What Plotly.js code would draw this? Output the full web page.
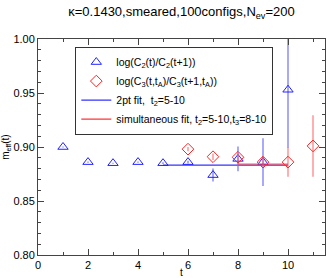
<!DOCTYPE html>
<html><head><meta charset="utf-8">
<script src="https://cdn.plot.ly/plotly-3.0.1.min.js"></script>
<style>html,body{margin:0;padding:0;background:#fff}#c{width:327px;height:278px}</style>
</head><body><div id="c"></div>
<script>
var t2 = [1, 2, 3, 4, 5, 6, 7, 8, 9, 10];
var m2 = [0.900, 0.886, 0.885, 0.886, 0.885, 0.886, 0.874, 0.889, 0.886, 0.953];
var e2 = [0.0005, 0.0005, 0.0005, 0.0006, 0.0008, 0.0012, 0.006, 0.0115, 0.022, 0.054];
var t3 = [6, 7, 8, 9, 10, 11];
var m3 = [0.898, 0.891, 0.8905, 0.886, 0.886, 0.901];
var e3 = [0.002, 0.003, 0.004, 0.004, 0.0135, 0.0285];
var fit2x = [5, 10];
var fit2y = [0.8833, 0.8833];
var fit3x = [8, 10];
var fit3y = [0.8838, 0.8838];
var names = [
  "log(C<sub>2</sub>(t)/C<sub>2</sub>(t+1))",
  "log(C<sub>3</sub>(t,t<sub>A</sub>)/C<sub>3</sub>(t+1,t<sub>A</sub>))",
  "2pt fit,  t<sub>2</sub>=5-10",
  "simultaneous fit, t<sub>2</sub>=5-10,t<sub>3</sub>=8-10"
];

var traces = [
  {x: fit2x, y: fit2y, mode: 'lines', name: names[2], line: {color: '#3333ff', width: 1.2}, showlegend: false},
  {x: t2, y: m2, mode: 'markers', name: names[0], type: 'scatter',
   marker: {symbol: 'triangle-up-open', size: 9, color: '#2222ff', line: {width: 1}},
   error_y: {type: 'data', array: e2, visible: true, color: 'rgba(110,110,255,0.6)', thickness: 2, width: 0}},
  {x: t3, y: m3, mode: 'markers', name: names[1], type: 'scatter',
   marker: {symbol: 'diamond-open', size: 9, color: '#ff2222', line: {width: 1}},
   error_y: {type: 'data', array: e3, visible: true, color: 'rgba(255,110,110,0.55)', thickness: 2, width: 0}},
  {x: fit3x, y: fit3y, mode: 'lines', name: names[3], line: {color: 'rgba(255,60,60,0.55)', width: 2.5}, showlegend: false},
  {x: [null], y: [null], mode: 'lines', name: names[2], line: {color: '#3333ff', width: 1.2}},
  {x: [null], y: [null], mode: 'lines', name: names[3], line: {color: '#ff3333', width: 1.2}}
];

var axisCommon = {
  showgrid: false, zeroline: false, showline: true, linecolor: '#444', linewidth: 1,
  mirror: 'allticks', ticks: 'inside', ticklen: 6, tickcolor: '#444',
  tickfont: {family: 'Liberation Sans, Arial, sans-serif', size: 11, color: '#000'}
};

var layout = {
  width: 327, height: 278,
  margin: {l: 38, r: 2, t: 39, b: 23},
  paper_bgcolor: '#fff', plot_bgcolor: '#fff',
  title: {text: 'κ=0.1430,smeared,100configs,N<sub>ev</sub>=200', x: 0.555, xanchor: 'center', y: 0.975, yanchor: 'top',
          font: {family: 'Liberation Sans, Arial, sans-serif', size: 13, color: '#000'}},
  xaxis: Object.assign({}, axisCommon, {range: [0, 11.48], dtick: 2, tick0: 0,
    minor: {ticks: 'inside', ticklen: 3, tickcolor: '#444', dtick: 1},
    title: {text: 't', font: {family: 'Liberation Sans, Arial, sans-serif', size: 10, color: '#000'}, standoff: 0}}),
  yaxis: Object.assign({}, axisCommon, {range: [0.8, 1.0], dtick: 0.05, tickformat: '.2f',
    minor: {ticks: 'inside', ticklen: 3, tickcolor: '#444', dtick: 0.01},
    title: {text: 'm<sub>eff</sub>(t)', font: {family: 'Liberation Sans, Arial, sans-serif', size: 10, color: '#000'}, standoff: 4}}),
  showlegend: true,
  legend: {x: 0.13, xanchor: 'left', y: 0.965, yanchor: 'top', bgcolor: '#fff',
    bordercolor: '#333', borderwidth: 1, tracegroupgap: 0, itemwidth: 30,
    font: {family: 'Liberation Sans, Arial, sans-serif', size: 10.5, color: '#000'}}
};

Plotly.newPlot('c', traces, layout, {displayModeBar: false, staticPlot: true});
</script></body></html>
